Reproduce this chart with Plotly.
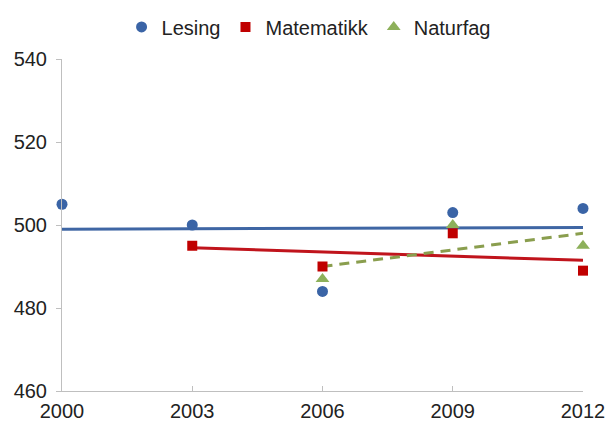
import numpy as np
import plotly.graph_objects as go

# PISA scores, Norway
years_lesing = [2000, 2003, 2006, 2009, 2012]
lesing = [505, 500, 484, 503, 504]

years_matte = [2003, 2006, 2009, 2012]
matematikk = [495, 490, 498, 489]

years_natur = [2006, 2009, 2012]
naturfag = [487, 500, 495]

x_ticks = [2000, 2003, 2006, 2009, 2012]
y_ticks = [460, 480, 500, 520, 540]

FONT = "Liberation Sans, Arial, sans-serif"

series = [
    ("Lesing", years_lesing, lesing, "#3A64A6", "#3F66A4", "circle", 11, "solid"),
    ("Matematikk", years_matte, matematikk, "#C00000", "#C0141C", "square", 10, "solid"),
    ("Naturfag", years_natur, naturfag, "#8DB05A", "#8A9E4E", "triangle-up", 12, "10px,7px"),
]

fig = go.Figure()

# Linear trend lines (least squares) over each series' own span
for name, xs, ys, mcol, lcol, sym, size, dash in series:
    k, m = np.polyfit(xs, ys, 1)
    xe = np.array([xs[0], xs[-1]], dtype=float)
    fig.add_trace(go.Scatter(
        x=xe, y=k * xe + m, mode="lines",
        line=dict(color=lcol, width=3, dash=dash),
        showlegend=False, hoverinfo="skip", cliponaxis=False,
    ))

for name, xs, ys, mcol, lcol, sym, size, dash in series:
    fig.add_trace(go.Scatter(
        x=xs, y=ys, mode="markers", name=name,
        marker=dict(color=mcol, symbol=sym, size=size),
        cliponaxis=False,
    ))

fig.update_layout(
    width=605, height=428,
    margin=dict(l=62, r=22, t=59, b=37, autoexpand=False),
    paper_bgcolor="white", plot_bgcolor="white",
    font=dict(family=FONT, size=20, color="#222222"),
    showlegend=True,
    legend=dict(
        orientation="h", xref="container", yref="container",
        x=0.51, y=0.937, xanchor="center", yanchor="middle",
        font=dict(size=20), itemwidth=30, tracegroupgap=0,
        bgcolor="rgba(0,0,0,0)",
    ),
    xaxis=dict(
        range=[2000, 2012], tickvals=x_ticks, ticktext=[str(v) for v in x_ticks],
        showgrid=False, zeroline=False, showline=True, linecolor="#BFBFBF",
        linewidth=1, ticks="inside", ticklen=5, tickcolor="#BFBFBF",
        tickfont=dict(size=20), ticklabeloverflow="allow", ticklabelstandoff=2,
    ),
    yaxis=dict(
        range=[460, 540], tickvals=y_ticks,
        showgrid=False, zeroline=False, showline=True, linecolor="#BFBFBF",
        linewidth=1, ticks="outside", ticklen=5, tickcolor="#BFBFBF",
        tickfont=dict(size=20), ticklabelstandoff=5,
    ),
)

fig.write_html("out.html")
